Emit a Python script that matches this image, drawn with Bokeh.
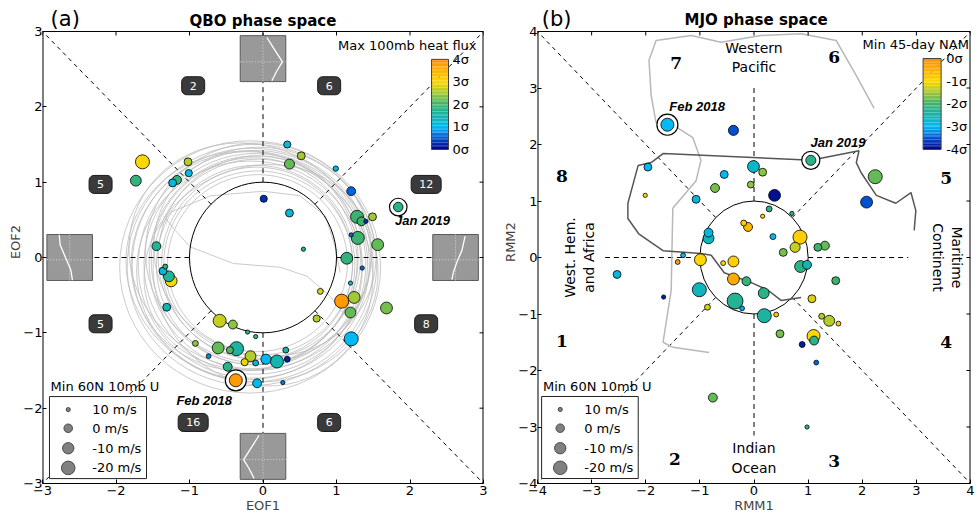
import numpy as np
from bokeh.plotting import figure
from bokeh.models import FixedTicker, Range1d
from bokeh.layouts import row
from bokeh.embed import file_html
from bokeh.resources import INLINE
from bokeh.core.properties import value

# ---------------- data: panel (a) QBO phase space ----------------
qbo_eof1 = [-1.64, -1.73, -1.02, -1.01, -1.17, -1.23, 0.01, -1.45, -1.33, -1.36, -1.28, -1.25,
            0.33, 0.52, 0.36, 0.99, 1.20, 0.36, 1.84, 1.28, 1.34, 1.40, 1.49, 1.20, 1.29, 1.56, 0.55,
            1.14, 1.35, 1.19, 0.78, 1.24, 1.07, 1.19, 1.68, 0.73, 1.20,
            -1.31, -0.59, -0.41, -0.21, -0.10, -0.92, -0.61, -0.45, -0.36, -0.74, -0.17, -0.25, -0.10,
            0.04, 0.19, 0.31, 0.33, -0.48, -0.37, -0.08, 0.27]
qbo_eof2 = [1.27, 1.02, 1.27, 1.12, 1.03, 0.99, 0.78, 0.15, -0.12, -0.18, -0.25, -0.31,
            1.50, 1.35, 1.24, 1.18, 0.88, 0.59, 0.67, 0.54, 0.48, 0.48, 0.54, 0.30, 0.26, 0.17, 0.11,
            -0.01, -0.14, -0.34, -0.45, -0.53, -0.58, -0.73, -0.67, -0.81, -1.08,
            -0.66, -0.84, -0.89, -0.99, -1.05, -1.14, -1.20, -1.23, -1.21, -1.31, -1.31, -1.39, -1.40,
            -1.35, -1.38, -1.23, -1.35, -1.45, -1.63, -1.67, -1.66]
qbo_u10 = [-22, -8, 2, 4, -1, 2, 4, -1, 9, 2, -8, -12,
           4, 2, -5, 8, -1, 2, -3, -17, -1, 10, 2, 10, -17, -12, 10,
           -12, 10, 10, 7, -12, -22, -8, -12, 4, -22,
           2, -17, -1, 10, 10, 7, -12, 4, -22, 9, -8, 4, 7,
           -5, -17, 7, 7, -1, -17, -1, 10]
qbo_heatflux = [3.0, 1.9, 2.6, 1.1, 1.9, 1.2, 0.3, 1.7, 1.9, 1.2, 1.7, 3.0,
                1.2, 2.5, 2.2, 1.2, 0.6, 1.2, 1.8, 2.0, 2.0, 0.3, 2.5, 0.6, 2.0, 2.2, 1.7,
                1.9, 0.6, 1.2, 2.8, 2.5, 3.8, 2.2, 2.3, 2.6, 1.0,
                1.5, 2.7, 2.4, 1.8, 2.0, 2.4, 2.2, 2.1, 1.6, 0.8, 2.6, 2.9, 1.2,
                1.0, 1.5, 1.6, 0.2, 1.8, 3.8, 1.1, 0.7]
qbo_highlight_idx = [18, 55]
qbo_highlight_text = ["Jan 2019", "Feb 2018"]
qbo_highlight_tx = [2.17, -0.80]
qbo_highlight_ty = [0.49, -1.90]

# QBO trajectory loops (centre, width, height, tilt)
loop_cx = [-0.175, -0.15, -0.14, -0.125, -0.11, -0.10, -0.12, -0.10, -0.08, -0.065, -0.075, 0.025,
           -0.075, -0.25, -0.06, -0.185, -0.20, 0.00, -0.15, -0.05]
loop_cy = [-0.125, -0.10, -0.10, -0.09, -0.085, -0.075, -0.05, -0.10, -0.075, -0.075, -0.125, 0.075,
           -0.075, -0.05, 0.06, -0.17, 0.02, -0.20, -0.12, 0.00]
loop_w = [3.55, 3.40, 3.28, 3.15, 3.02, 2.90, 2.80, 2.70, 2.60, 2.57, 3.15, 3.05,
          2.45, 3.10, 3.08, 3.07, 3.30, 2.95, 3.45, 2.75]
loop_h = [3.35, 3.20, 3.10, 3.02, 2.93, 2.85, 2.75, 2.65, 2.55, 2.45, 2.65, 2.75,
          2.35, 2.90, 2.92, 2.90, 2.95, 3.05, 3.05, 2.70]
loop_tilt = [0.00, 0.15, -0.10, 0.25, -0.20, 0.05, 0.35, -0.30, 0.10, -0.05, 0.40, -0.35,
             0.20, 0.30, -0.15, 0.10, -0.45, 0.50, -0.25, 0.45]
inner_a_x = [-1.40, -1.26, -0.71, 0.00, 0.50, 0.85, 0.98, 1.05]
inner_a_y = [0.40, 0.60, 0.82, 0.88, 0.82, 0.55, 0.15, -0.20]
inner_b_x = [-1.35, -1.23, -0.99, -0.40, 0.24, 0.60, 0.90, 1.10]
inner_b_y = [0.55, 0.40, 0.14, -0.08, -0.13, -0.25, -0.50, -0.75]

qbo_phase_counts = ["2", "6", "5", "12", "5", "8", "16", "6"]
qbo_phase_x = [-0.95, 0.90, -2.21, 2.22, -2.21, 2.22, -0.95, 0.90]
qbo_phase_y = [2.28, 2.28, 0.97, 0.97, -0.88, -0.88, -2.19, -2.19]

# EOF wind profiles shown in the inset boxes (box-relative coordinates)
prof_top_u = [0.17, 0.50, 0.85, 0.60, 0.39]
prof_top_v = [0.92, 0.40, -0.14, -0.55, -0.96]
prof_left_u = [-0.46, -0.42, -0.17, 0.05, 0.12]
prof_left_v = [0.99, 0.55, -0.03, -0.54, -0.99]
prof_right_u = [0.42, 0.28, 0.06, -0.09, -0.16]
prof_right_v = [0.93, 0.31, -0.20, -0.63, -0.96]
prof_bot_u = [-0.17, -0.50, -0.85, -0.60, -0.39]
prof_bot_v = [0.92, 0.40, -0.14, -0.55, -0.96]

# ---------------- data: panel (b) MJO phase space ----------------
mjo_rmm1 = [-1.60, -0.38, 1.05, -1.96, -0.01, 0.16, -0.55, -0.72, -0.06, 0.38,
            -2.01, -1.07, 0.28, 0.16, 0.70, 2.24, 2.08, -0.19, -0.11, 0.35,
            -0.84, -0.84, 0.85, 0.76, 0.54, 1.18, 1.31, -1.31, -1.41, -0.99,
            -0.57, -0.38, 0.86, 0.98, -2.53, -0.38, -0.14, 1.51, -1.01, 0.18,
            -1.67, -0.35, -0.22, -0.86, 1.07, 0.19, 0.41, 1.25, 1.39, 1.56,
            0.48, 1.10, 1.11, 0.89, 1.15, -0.76, 0.98]
mjo_rmm2 = [2.35, 2.25, 1.72, 1.60, 1.61, 1.51, 1.47, 1.23, 1.29, 1.10,
            1.10, 1.03, 0.86, 0.73, 0.78, 1.43, 0.98, 0.61, 0.54, 0.37,
            0.44, 0.34, 0.36, 0.18, 0.09, 0.18, 0.21, 0.04, -0.08, -0.04,
            -0.10, -0.07, -0.16, -0.13, -0.30, -0.38, -0.42, -0.41, -0.57, -0.63,
            -0.70, -0.77, -0.90, -0.88, -0.73, -1.03, -1.01, -1.04, -1.12, -1.17,
            -1.35, -1.39, -1.47, -1.54, -1.86, -2.48, -3.00]
mjo_u10 = [-17, -5, -5, 2, -12, 2, 2, -1, 5, -12,
           10, 2, 7, 10, 10, -22, -12, 7, -1, 7,
           -1, -8, -22, -5, 2, 2, -1, 9, 9, -12,
           9, -8, -12, -1, 2, -12, -1, 2, -22, -8,
           10, -32, 9, 7, 2, -22, 9, 7, -8, 9,
           2, -17, -1, 7, 9, -1, 10]
mjo_nam = [-3.0, -3.5, -2.2, -3.0, -2.7, -1.6, -3.0, -1.7, -1.6, -3.9,
           -1.0, -2.8, -2.2, -0.9, -2.3, -1.8, -3.5, -0.9, -0.6, -3.0,
           -2.8, -2.6, -0.9, -1.3, -1.7, -2.0, -1.8, -3.0, -0.3, -1.0,
           -1.0, -0.9, -2.2, -2.5, -2.8, -0.4, -2.1, -2.0, -2.6, -2.2,
           -3.8, -2.3, -3.1, -1.2, -1.2, -2.4, -0.8, -1.4, -1.4, -0.8,
           -1.7, -1.0, -2.2, -3.8, -3.4, -1.8, -2.3]
mjo_highlight_idx = [0, 2]
mjo_highlight_text = ["Feb 2018", "Jan 2019"]
mjo_highlight_tx = [-1.05, 1.55]
mjo_highlight_ty = [2.67, 2.03]

# MJO trajectories: Feb 2018 (light) and Jan 2019 (dark)
traj_feb_x = [2.22, 1.89, 1.52, 0.87, 0.13, -0.61, -1.16, -1.81, -1.94, -1.90, -1.81, -1.53, -1.13, -0.98, -1.07, -1.50, -1.53, -1.68, -1.50, -0.83]
traj_feb_y = [2.64, 3.22, 3.84, 3.96, 3.93, 3.81, 3.93, 3.84, 3.49, 2.87, 2.39, 2.37, 2.12, 1.72, 1.36, 0.87, -0.58, -1.50, -1.59, -1.68]
traj_jan_x = [0.87, 0.50, 0.26, -0.06, -0.55, -0.79, -0.98, -1.68, -2.13, -2.33, -2.33, -2.14, -1.90, -1.68, 0.87, 1.05, 1.94, 1.89, 1.98, 2.26, 2.62, 2.90, 2.99, 2.96]
traj_jan_y = [-0.71, -0.76, -0.58, -0.44, -0.27, 0.04, 0.07, 0.12, 0.42, 0.69, 0.96, 1.63, 1.68, 1.84, 1.73, 1.72, 1.89, 1.68, 1.50, 1.10, 0.96, 1.15, 0.83, 0.48]

mjo_phase_labels = ["7", "6", "8", "5", "1", "4", "2", "3"]
mjo_phase_x = [-1.44, 1.48, -3.55, 3.55, -3.55, 3.55, -1.46, 1.48]
mjo_phase_y = [3.45, 3.54, 1.45, 1.40, -1.47, -1.50, -3.56, -3.60]

legend_u = [10, 0, -10, -20]
legend_text = ["10 m/s", "0 m/s", "-10 m/s", "-20 m/s"]
cbar_a_labels = ["0σ", "1σ", "2σ", "3σ", "4σ"]
cbar_b_labels = ["-4σ", "-3σ", "-2σ", "-1σ", "0σ"]

# ---------------- helpers ----------------
CM_POS = [0.0, 0.5, 1.0, 1.5, 2.0, 2.5, 3.0, 3.5, 4.0]
CM_R = [0, 0, 0, 20, 60, 160, 255, 255, 255]
CM_G = [0, 80, 185, 180, 178, 200, 215, 178, 140]
CM_B = [128, 210, 245, 175, 110, 55, 0, 0, 0]


def cmap(t):
    t = np.clip(np.asarray(t, float), 0, 4)
    r = np.interp(t, CM_POS, CM_R)
    g = np.interp(t, CM_POS, CM_G)
    b = np.interp(t, CM_POS, CM_B)
    return ["#%02x%02x%02x" % (int(a), int(bb), int(c)) for a, bb, c in zip(r, g, b)]


def diam(u):
    u = np.asarray(u, float)
    return 2 * np.sqrt(np.maximum(18.5 - 1.4 * u, 3.0))


FONT = value("DejaVu Sans")
TOP_PX = 31          # header strip above the plotting box
FRAME_PX = 452       # height of the plotting box


def make_fig(lim, width, left, right, xlabel, ylabel):
    extra = lim * 2 * TOP_PX / FRAME_PX
    p = figure(width=width, height=TOP_PX + FRAME_PX + 34,
               x_range=Range1d(-lim, lim), y_range=Range1d(-lim, lim + extra),
               output_backend="svg", toolbar_location=None,
               min_border_left=left, min_border_right=right, min_border_top=0, min_border_bottom=34)
    p.grid.visible = False
    p.outline_line_color = None
    ticks = list(range(-lim, lim + 1))
    for ax in (p.xaxis[0], p.yaxis[0]):
        ax.ticker = FixedTicker(ticks=ticks)
        ax.major_tick_in = 4
        ax.major_tick_out = 0
        ax.minor_tick_line_color = None
        ax.major_label_text_font = "DejaVu Sans"
        ax.major_label_text_font_size = "13px"
        ax.major_label_text_color = "black"
        ax.axis_label_text_font = "DejaVu Sans"
        ax.axis_label_text_font_size = "13px"
        ax.axis_label_text_font_style = "normal"
    p.xaxis[0].major_label_standoff = 2
    p.xaxis[0].axis_label_standoff = 0
    p.yaxis[0].major_label_standoff = 0
    p.yaxis[0].axis_label_standoff = -3
    p.yaxis[0].axis_line_color = None
    p.xaxis[0].axis_label = xlabel
    p.yaxis[0].axis_label = ylabel
    # box around the plotting area
    p.line([-lim, -lim], [-lim, lim], line_color="black", line_width=2)
    p.line([lim, lim], [-lim, lim], line_color="black", line_width=2)
    p.line([-lim, lim], [lim, lim], line_color="black", line_width=1)
    return p, ticks


def mirror_ticks(p, ticks, lim, dx, dy):
    p.segment(x0=ticks, y0=[lim] * len(ticks), x1=ticks, y1=[lim - dy] * len(ticks),
              line_color="black", line_width=1)
    p.segment(x0=[lim] * len(ticks), y0=ticks, x1=[lim - dx] * len(ticks), y1=ticks,
              line_color="black", line_width=1)


def radial_lines(p, inner, outer_diag, outer_axis):
    d = inner / np.sqrt(2)
    for sx, sy in ((1, 1), (1, -1), (-1, 1), (-1, -1)):
        p.line([sx * d, sx * outer_diag], [sy * d, sy * outer_diag], line_color="black",
               line_width=1, line_dash="4 4")
    t, b, l, r = outer_axis
    p.line([0, 0], [inner, t], line_color="black", line_width=1, line_dash="5 4")
    p.line([0, 0], [-inner, b], line_color="black", line_width=1, line_dash="5 4")
    p.line([-inner, l], [0, 0], line_color="black", line_width=1, line_dash="5 4")
    p.line([inner, r], [0, 0], line_color="black", line_width=1, line_dash="5 4")


def draw_points(p, xs, ys, us, cvals, hl_idx):
    xs = np.asarray(xs); ys = np.asarray(ys)
    d = diam(us)
    cols = np.array(cmap(cvals))
    for i in hl_idx:
        p.scatter([xs[i]], [ys[i]], size=d[i] + 8, fill_color="white", line_color="black", line_width=1.2)
    order = np.argsort(-d)
    p.scatter(xs[order], ys[order], size=d[order], fill_color=list(cols[order]),
              line_color="black", line_width=0.8)


def colorbar(p, x0, x1, y0, y1, labels, lx, title, tx, ty):
    n = 64
    t = (np.arange(n) + 0.5) / n * 4
    yc = y0 + (y1 - y0) * (np.arange(n) + 0.5) / n
    p.rect(x=[(x0 + x1) / 2] * n, y=yc, width=x1 - x0, height=(y1 - y0) / n * 1.05,
           fill_color=cmap(t), line_color=None)
    p.rect(x=[(x0 + x1) / 2], y=[(y0 + y1) / 2], width=x1 - x0, height=y1 - y0,
           fill_color=None, line_color="#444444", line_width=1)
    ly = [y0 + (y1 - y0) * k / 4 for k in range(5)]
    p.text(x=[lx] * 5, y=ly, text=labels, text_font=FONT, text_font_size="13px",
           text_align="left", text_baseline="middle", text_color="black")
    p.text(x=[tx], y=[ty], text=[title], text_font=FONT, text_font_size="13px",
           text_align="right", text_baseline="middle", text_color="black")


def size_legend(p, bx0, bx1, by0, by1, dot_x, row_y, txt_x, title_x, title_y):
    p.rect(x=[(bx0 + bx1) / 2], y=[(by0 + by1) / 2], width=bx1 - bx0, height=by1 - by0,
           fill_color="white", line_color="#222222", line_width=1)
    p.scatter([dot_x] * 4, row_y, size=diam(legend_u), fill_color="#808080",
              line_color="#333333", line_width=0.8)
    p.text(x=[txt_x] * 4, y=row_y, text=legend_text, text_font=FONT, text_font_size="13px",
           text_align="left", text_baseline="middle", text_color="black")
    p.text(x=[title_x], y=[title_y], text=["Min 60N 10mb U"], text_font=FONT, text_font_size="13px",
           text_align="left", text_baseline="middle", text_color="black")


def headers(p, tag, tag_x, tag_y, title, title_x, title_y):
    p.text(x=[title_x], y=[title_y], text=[title], text_font=FONT, text_font_size="15px",
           text_font_style="bold", text_align="center", text_baseline="middle", text_color="black")
    p.text(x=[tag_x], y=[tag_y], text=[tag], text_font=FONT, text_font_size="21px",
           text_align="left", text_baseline="middle", text_color="black")


# ================= panel (a) =================
pa, ticks_a = make_fig(3, 493, 42, 10, "EOF1", "EOF2")

pa.ellipse(x=loop_cx, y=loop_cy, width=loop_w, height=loop_h, angle=loop_tilt, fill_color=None,
           line_color="#bdbdbd", line_width=0.8)
pa.line(inner_a_x, inner_a_y, line_color="#bdbdbd", line_width=0.8)
pa.line(inner_b_x, inner_b_y, line_color="#bdbdbd", line_width=0.8)

radial_lines(pa, 1.0, 3.0, (3.0, -3.0, -3.0, 3.0))
pa.ellipse(x=[0], y=[0], width=[2], height=[2], fill_color=None, line_color="black", line_width=1)

hw, hh = 0.31, 0.305
insets = [((0.0, 2.64), prof_top_u, prof_top_v, -0.14),
          ((-2.63, 0.0), prof_left_u, prof_left_v, -0.10),
          ((2.62, 0.0), prof_right_u, prof_right_v, -0.10),
          ((0.0, -2.64), prof_bot_u, prof_bot_v, -0.14)]
for (cx, cy), pu, pv, hv in insets:
    pa.rect(x=[cx], y=[cy], width=2 * hw, height=2 * hh, fill_color="#999999",
            line_color="#5a5a5a", line_width=1)
    pa.line([cx, cx], [cy - hh, cy + hh], line_color="#d8d8d8", line_width=1, line_dash="1 2")
    pa.line([cx - hw, cx + hw], [cy + hv * hh, cy + hv * hh], line_color="#d8d8d8", line_width=1,
            line_dash="1 2")
    pa.line([cx + u * hw for u in pu], [cy + v * hh for v in pv], line_color="white", line_width=1.3)

pa.text(x=qbo_phase_x, y=qbo_phase_y, text=qbo_phase_counts, text_font=FONT, text_font_size="11px",
        text_color="white", text_align="center", text_baseline="middle",
        background_fill_color="#3a3a3a", border_line_color="#1a1a1a", border_radius=5, padding=(8, 5))

draw_points(pa, qbo_eof1, qbo_eof2, qbo_u10, qbo_heatflux, qbo_highlight_idx)
pa.text(x=qbo_highlight_tx, y=qbo_highlight_ty, text=qbo_highlight_text,
        text_font=value("Liberation Sans"), text_font_size="13px", text_font_style="bold italic",
        text_align="center", text_baseline="middle", text_color="black")

colorbar(pa, 2.293, 2.524, 1.434, 2.63, cbar_a_labels, 2.578, "Max 100mb heat flux", 2.905, 2.815)
size_legend(pa, -2.905, -1.585, -2.935, -1.846, -2.65, [-2.019, -2.267, -2.532, -2.793], -2.324,
            -2.89, -1.713)
mirror_ticks(pa, ticks_a, 3, 4 / 73.5, 4 / 75.33)
headers(pa, "(a)", -2.89, 3.17, "QBO phase space", 0.0, 3.134)

# ================= panel (b) =================
pb, ticks_b = make_fig(4, 485, 44, 8, "RMM1", "RMM2")

radial_lines(pb, 1.0, 4.0, (3.05, -3.15, -2.75, 2.85))
pb.ellipse(x=[0], y=[0], width=[2], height=[2], fill_color=None, line_color="black", line_width=1)

pb.line(traj_feb_x, traj_feb_y, line_color="#b8b8b8", line_width=1.5)
pb.line(traj_jan_x, traj_jan_y, line_color="#555555", line_width=1.5)

pb.text(x=[0.0, 0.0], y=[3.54, -3.55], text=["Western\nPacific", "Indian\nOcean"], text_font=FONT,
        text_font_size="14px", text_align="center", text_baseline="middle", text_color="black")
pb.text(x=[-3.22], y=[0.0], text=["West. Hem.\nand Africa"], angle=np.pi / 2, text_font=FONT,
        text_font_size="14px", text_align="center", text_baseline="middle", text_color="black")
pb.text(x=[3.57], y=[0.0], text=["Maritime\nContinent"], angle=-np.pi / 2, text_font=FONT,
        text_font_size="14px", text_align="center", text_baseline="middle", text_color="black")
pb.text(x=mjo_phase_x, y=mjo_phase_y, text=mjo_phase_labels, text_font=value("DejaVu Serif"),
        text_font_size="17px", text_font_style="bold", text_align="center", text_baseline="middle",
        text_color="black")

draw_points(pb, mjo_rmm1, mjo_rmm2, mjo_u10, [v + 4 for v in mjo_nam], mjo_highlight_idx)
pb.text(x=mjo_highlight_tx, y=mjo_highlight_ty, text=mjo_highlight_text,
        text_font=value("Liberation Sans"), text_font_size="13px", text_font_style="bold italic",
        text_align="center", text_baseline="middle", text_color="black")

colorbar(pb, 3.124, 3.457, 1.912, 3.522, cbar_b_labels, 3.55, "Min 45-day NAM", 3.97, 3.77)
size_legend(pb, -3.924, -2.139, -3.912, -2.460, -3.58, [-2.69, -3.021, -3.375, -3.722], -3.137,
            -3.90, -2.283)
mirror_ticks(pb, ticks_b, 4, 4 / 54.1, 4 / 56.5)
headers(pb, "(b)", -3.92, 4.23, "MJO phase space", 0.04, 4.195)

layout = row(pa, pb)
open("out.html", "w").write(file_html(layout, INLINE))
